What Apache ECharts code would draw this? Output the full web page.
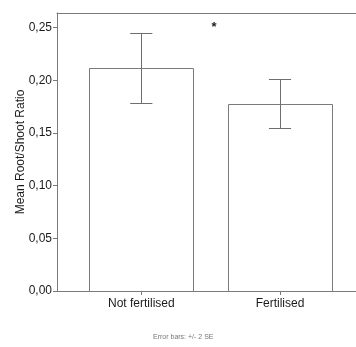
<!DOCTYPE html>
<html><head><meta charset="utf-8">
<script src="https://cdn.jsdelivr.net/npm/echarts@6/dist/echarts.min.js"></script>
<style>html,body{margin:0;padding:0;background:#fff}#c{width:356px;height:347px}</style>
</head><body><div id="c"></div>
<script>
const categories = ['Not fertilised', 'Fertilised'];
const means = [0.212, 0.178];
const errLow = [0.179, 0.155];
const errHigh = [0.245, 0.201];
const yTicks = [0, 0.05, 0.10, 0.15, 0.20, 0.25];
const annotation = {x: 0.525, y: 0.250, text: '*'};
const footnote = 'Error bars: +/- 2 SE';

const chart = echarts.init(document.getElementById('c'), null, {renderer: 'canvas'});
const lineCol = '#7a7a7a';
const barHalf = 0.375, capHalf = 0.08;
const font = 'Liberation Sans, Arial, sans-serif';
const xMin = -0.608, xMax = 1.548;

const barData = categories.map((c, i) => [i, means[i]]);
const errData = categories.map((c, i) => [i, errLow[i], errHigh[i]]);

chart.setOption({
  animation: false,
  grid: {left: 57, top: 13, right: 0, bottom: 56, show: false, containLabel: false, outerBoundsMode: 'none'},
  xAxis: [{
    type: 'value', min: xMin, max: xMax,
    splitLine: {show: false},
    axisLine: {show: true, onZero: false, lineStyle: {color: lineCol}},
    axisTick: {show: true, customValues: [0, 1], length: 4, lineStyle: {color: lineCol}},
    axisLabel: {customValues: [0, 1], formatter: v => categories[Math.round(v)] || '',
      color: '#1a1a1a', fontSize: 12, fontFamily: font, margin: 7}
  }, {
    type: 'value', position: 'top', min: xMin, max: xMax,
    splitLine: {show: false},
    axisLine: {show: true, onZero: false, lineStyle: {color: lineCol}},
    axisTick: {show: false}, axisLabel: {show: false}
  }],
  yAxis: {
    type: 'value', min: 0, max: 0.264,
    name: 'Mean Root/Shoot Ratio', nameLocation: 'middle', nameGap: 30, nameMoveOverlap: false,
    nameTextStyle: {color: '#1a1a1a', fontSize: 12, fontFamily: font},
    splitLine: {show: false},
    axisLine: {show: true, onZero: false, lineStyle: {color: lineCol}},
    axisTick: {show: true, customValues: yTicks, length: 4, lineStyle: {color: lineCol}},
    axisLabel: {customValues: yTicks, formatter: v => v.toFixed(2).replace('.', ','),
      color: '#1a1a1a', fontSize: 12, fontFamily: font, margin: 5}
  },
  series: [
    {
      type: 'custom', data: barData, z: 2,
      renderItem: (params, api) => {
        const x = api.value(0), y = api.value(1);
        const p0 = api.coord([x - barHalf, y]);
        const p1 = api.coord([x + barHalf, 0]);
        return {type: 'rect', shape: {x: Math.round(p0[0]) + 0.5, y: Math.round(p0[1]) + 0.5,
          width: Math.round(p1[0] - p0[0]), height: Math.round(p1[1] - p0[1])},
          style: {fill: '#fff', stroke: lineCol, lineWidth: 1}};
      }
    },
    {
      type: 'custom', data: errData, z: 3,
      renderItem: (params, api) => {
        const x = api.value(0);
        const lo = api.coord([x, api.value(1)]);
        const hi = api.coord([x, api.value(2)]);
        const cl = api.coord([x - capHalf, 0])[0];
        const cr = api.coord([x + capHalf, 0])[0];
        const xm = Math.round(lo[0]) + 0.5;
        const st = {stroke: '#6e6e6e', lineWidth: 1};
        return {type: 'group', children: [
          {type: 'line', shape: {x1: xm, y1: Math.round(lo[1]) + 0.5, x2: xm, y2: Math.round(hi[1]) + 0.5}, style: st},
          {type: 'line', shape: {x1: cl, y1: Math.round(lo[1]) + 0.5, x2: cr, y2: Math.round(lo[1]) + 0.5}, style: st},
          {type: 'line', shape: {x1: cl, y1: Math.round(hi[1]) + 0.5, x2: cr, y2: Math.round(hi[1]) + 0.5}, style: st}
        ]};
      }
    },
    {
      type: 'custom', data: [[annotation.x, annotation.y]], z: 4,
      renderItem: (params, api) => {
        const p = api.coord([api.value(0), api.value(1)]);
        return {type: 'text', x: p[0], y: p[1], style: {text: annotation.text, fill: '#222',
          font: 'bold 13px ' + font, align: 'center', verticalAlign: 'middle'}};
      }
    }
  ],
  graphic: [{type: 'text', left: 153, top: 334, style: {text: footnote, fill: '#777',
    font: '7px ' + font}}]
});
</script></body></html>
